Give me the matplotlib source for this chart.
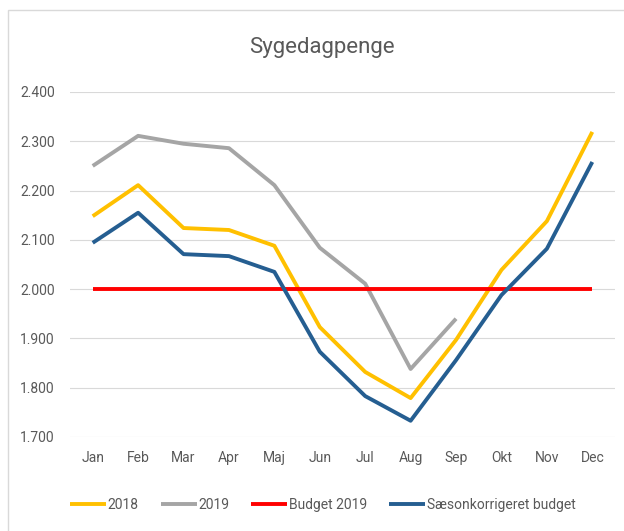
import matplotlib
matplotlib.use("Agg")
import matplotlib.pyplot as plt
from matplotlib.patches import Rectangle

months = ["Jan", "Feb", "Mar", "Apr", "Maj", "Jun", "Jul", "Aug", "Sep", "Okt", "Nov", "Dec"]
v2018 = [2.148, 2.211, 2.124, 2.120, 2.088, 1.923, 1.832, 1.779, 1.897, 2.039, 2.138, 2.319]
v2019 = [2.250, 2.311, 2.295, 2.286, 2.211, 2.084, 2.011, 1.838, 1.940]
budget2019 = [2.000] * 12
saeson = [2.094, 2.155, 2.071, 2.067, 2.035, 1.873, 1.783, 1.733, 1.856, 1.988, 2.082, 2.258]
yticks = [1.7, 1.8, 1.9, 2.0, 2.1, 2.2, 2.3, 2.4]
ylabels = ["1.700", "1.800", "1.900", "2.000", "2.100", "2.200", "2.300", "2.400"]

plt.rcParams['font.family'] = ['Roboto', 'DejaVu Sans']

fig = plt.figure(figsize=(6.24, 5.31), dpi=100)
fig.patches.append(Rectangle((8/624, -0.05), 1.0, 1 - 10/531 + 0.05, transform=fig.transFigure,
                             fill=False, edgecolor='#d9d9d9', lw=1))
ax = fig.add_axes([70/624, 1 - 437/531, (615 - 70)/624, (437 - 92)/531])

x = list(range(len(months)))
ax.plot(x, v2018, color='#FFC000', lw=2.8, label='2018', solid_capstyle='butt')
ax.plot(x[:len(v2019)], v2019, color='#A5A5A5', lw=2.8, label='2019', solid_capstyle='butt')
ax.plot(x, budget2019, color='#FF0000', lw=2.8, label='Budget 2019', solid_capstyle='butt')
ax.plot(x, saeson, color='#255E91', lw=2.8, label='Sæsonkorrigeret budget', solid_capstyle='butt')

ax.set_xlim(-0.5, len(months) - 0.5)
ax.set_ylim(1.7, 2.4)
ax.set_yticks(yticks)
ax.set_yticklabels(ylabels)
ax.set_xticks(x)
ax.set_xticklabels(months)
ax.tick_params(axis='both', length=0, labelsize=10, colors='#595959')
ax.tick_params(axis='y', pad=11)
ax.tick_params(axis='x', pad=10)
ax.grid(axis='y', color='#d9d9d9', lw=0.8)
ax.set_axisbelow(True)
for s in ax.spines.values():
    s.set_visible(False)

fig.text(322/624, 1 - 47/531, 'Sygedagpenge', ha='center', va='center', fontsize=16, color='#595959')

fig.legend(loc='center', bbox_to_anchor=(0.517, 1 - 505/531), ncol=4, frameon=False,
           fontsize=10, handlelength=2.6, handletextpad=0.1, columnspacing=1.6,
           labelcolor='#595959')

fig.savefig('out.png', dpi=100)
